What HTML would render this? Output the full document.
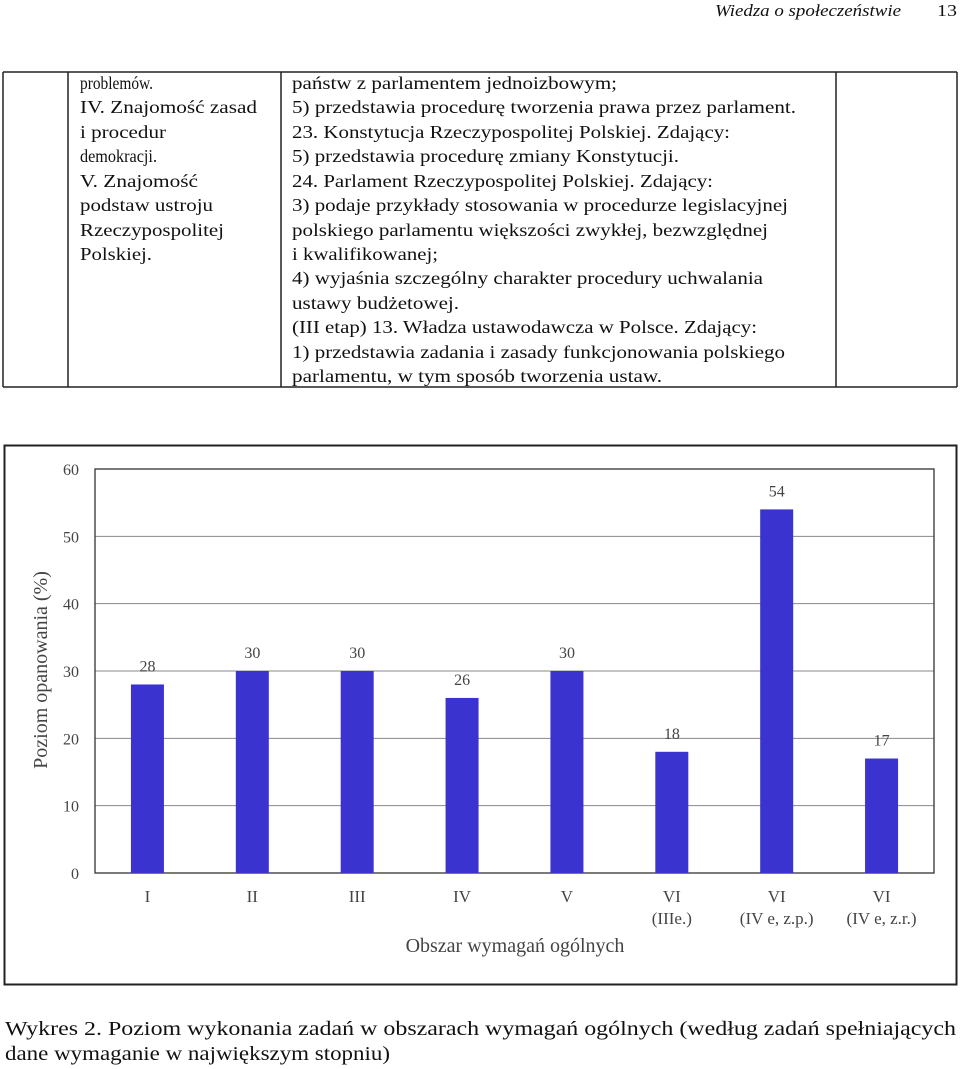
<!DOCTYPE html>
<html><head><meta charset="utf-8"><style>
html,body{margin:0;padding:0;background:#fff;}
svg{display:block;}
.t{font-family:"Liberation Serif",serif;font-size:18px;fill:#111;}
.ax{font-family:"Liberation Serif",serif;fill:#444;}
</style></head><body>
<svg id="page" width="960" height="1069" viewBox="0 0 960 1069" xmlns="http://www.w3.org/2000/svg">
<g>
<text x="715" y="16" class="t" style="font-style:italic;font-size:17px" textLength="186" lengthAdjust="spacingAndGlyphs" fill="#222">Wiedza o społeczeństwie</text>
<text x="937" y="16" class="t" style="font-size:17px" textLength="20" lengthAdjust="spacingAndGlyphs">13</text>
</g>
<g stroke="#222" stroke-width="1.5">
<line x1="3" y1="72" x2="957" y2="72"/><line x1="3" y1="387" x2="957" y2="387"/>
<line x1="3" y1="72" x2="3" y2="387"/><line x1="68" y1="72" x2="68" y2="387"/>
<line x1="281" y1="72" x2="281" y2="387"/><line x1="836" y1="72" x2="836" y2="387"/>
<line x1="957" y1="72" x2="957" y2="387"/>
</g>
<g>
<text class="t" x="80" y="89" textLength="73" lengthAdjust="spacingAndGlyphs">problemów.</text>
<text class="t" x="80" y="113" textLength="177" lengthAdjust="spacingAndGlyphs">IV. Znajomość zasad</text>
<text class="t" x="80" y="138" textLength="86" lengthAdjust="spacingAndGlyphs">i procedur</text>
<text class="t" x="80" y="162" textLength="77" lengthAdjust="spacingAndGlyphs">demokracji.</text>
<text class="t" x="80" y="187" textLength="118" lengthAdjust="spacingAndGlyphs">V. Znajomość</text>
<text class="t" x="80" y="211" textLength="133" lengthAdjust="spacingAndGlyphs">podstaw ustroju</text>
<text class="t" x="80" y="236" textLength="144" lengthAdjust="spacingAndGlyphs">Rzeczypospolitej</text>
<text class="t" x="80" y="260" textLength="72" lengthAdjust="spacingAndGlyphs">Polskiej.</text>
</g>
<g>
<text class="t" x="292" y="89" textLength="325" lengthAdjust="spacingAndGlyphs">państw z parlamentem jednoizbowym;</text>
<text class="t" x="292" y="113" textLength="504" lengthAdjust="spacingAndGlyphs">5) przedstawia procedurę tworzenia prawa przez parlament.</text>
<text class="t" x="292" y="138" textLength="438" lengthAdjust="spacingAndGlyphs">23. Konstytucja Rzeczypospolitej Polskiej. Zdający:</text>
<text class="t" x="292" y="162" textLength="387" lengthAdjust="spacingAndGlyphs">5) przedstawia procedurę zmiany Konstytucji.</text>
<text class="t" x="292" y="187" textLength="421" lengthAdjust="spacingAndGlyphs">24. Parlament Rzeczypospolitej Polskiej. Zdający:</text>
<text class="t" x="292" y="211" textLength="496" lengthAdjust="spacingAndGlyphs">3) podaje przykłady stosowania w procedurze legislacyjnej</text>
<text class="t" x="292" y="236" textLength="476" lengthAdjust="spacingAndGlyphs">polskiego parlamentu większości zwykłej, bezwzględnej</text>
<text class="t" x="292" y="260" textLength="146" lengthAdjust="spacingAndGlyphs">i kwalifikowanej;</text>
<text class="t" x="292" y="284" textLength="471" lengthAdjust="spacingAndGlyphs">4) wyjaśnia szczególny charakter procedury uchwalania</text>
<text class="t" x="292" y="309" textLength="167" lengthAdjust="spacingAndGlyphs">ustawy budżetowej.</text>
<text class="t" x="292" y="333" textLength="465" lengthAdjust="spacingAndGlyphs">(III etap) 13. Władza ustawodawcza w Polsce. Zdający:</text>
<text class="t" x="292" y="358" textLength="493" lengthAdjust="spacingAndGlyphs">1) przedstawia zadania i zasady funkcjonowania polskiego</text>
<text class="t" x="292" y="382" textLength="370" lengthAdjust="spacingAndGlyphs">parlamentu, w tym sposób tworzenia ustaw.</text>
</g>
<rect x="4.5" y="445.5" width="952" height="539" fill="none" stroke="#222" stroke-width="2"/>
<g id="chart"></g>
<g>
<text class="t" x="5" y="1035" style="font-size:20px" textLength="951" lengthAdjust="spacingAndGlyphs">Wykres 2. Poziom wykonania zadań w obszarach wymagań ogólnych (według zadań spełniających</text>
<text class="t" x="5" y="1060" style="font-size:20px" textLength="385" lengthAdjust="spacingAndGlyphs">dane wymaganie w największym stopniu)</text>
</g>
</svg>
<script>
const categories = ["I","II","III","IV","V","VI","VI","VI"];
const subLabels = ["","","","","","(IIIe.)","(IV e, z.p.)","(IV e, z.r.)"];
const values = [28,30,30,26,30,18,54,17];
const yTicks = [0,10,20,30,40,50,60];

const NS = "http://www.w3.org/2000/svg";
const g = document.getElementById('chart');
const L = 95, R = 934, T = 469, B = 873, yMax = 60;
const step = (R - L) / categories.length;
const bw = 33;
function yScale(v){ return B - (v / yMax) * (B - T); }
function xCenter(i){ return L + step * (i + 0.5); }
function mk(tag, attrs){ const e = document.createElementNS(NS, tag); for (const k in attrs) e.setAttribute(k, attrs[k]); g.appendChild(e); return e; }

yTicks.forEach(v => {
  const y = yScale(v);
  if (v > 0 && v < yMax) {
    const ln = mk('line', {x1: L, x2: R, y1: y, y2: y, stroke: '#888', 'stroke-width': 1});
    
    
  }
  const t = mk('text', {x: 79, y: y + 6, 'text-anchor': 'end', class: 'ax', 'font-size': 16});
  
  
  t.textContent = v;
});
const frame = mk('rect', {x: L, y: T, width: R - L, height: B - T, fill: 'none', stroke: '#333', 'stroke-width': 1.3});



values.forEach((v, i) => {
  const cx = xCenter(i), y = yScale(v);
  const r = mk('rect', {x: cx - bw / 2, y: y, width: bw, height: B - y, fill: '#3a33cf'});
  
  
  const lbl = mk('text', {x: cx, y: y - 13, 'text-anchor': 'middle', class: 'ax', 'font-size': 16, fill: '#333'});
  
  
  lbl.textContent = v;
  const c = mk('text', {x: cx, y: 902, 'text-anchor': 'middle', class: 'ax', 'font-size': 17});
  
  
  c.textContent = categories[i];
  if (subLabels[i]) {
    const s = mk('text', {x: cx, y: 924, 'text-anchor': 'middle', class: 'ax', 'font-size': 17});
    
    
    s.textContent = subLabels[i];
  }
});
const xt = mk('text', {x: 515, y: 952, 'text-anchor': 'middle', class: 'ax', 'font-size': 20, fill: '#555'});


xt.textContent = 'Obszar wymagań ogólnych';
const yt = mk('text', {x: 0, y: 0, 'text-anchor': 'middle', class: 'ax', 'font-size': 20, fill: '#555', transform: 'translate(47,670) rotate(-90)'});


yt.textContent = 'Poziom opanowania (%)';
</script>
</body></html>
